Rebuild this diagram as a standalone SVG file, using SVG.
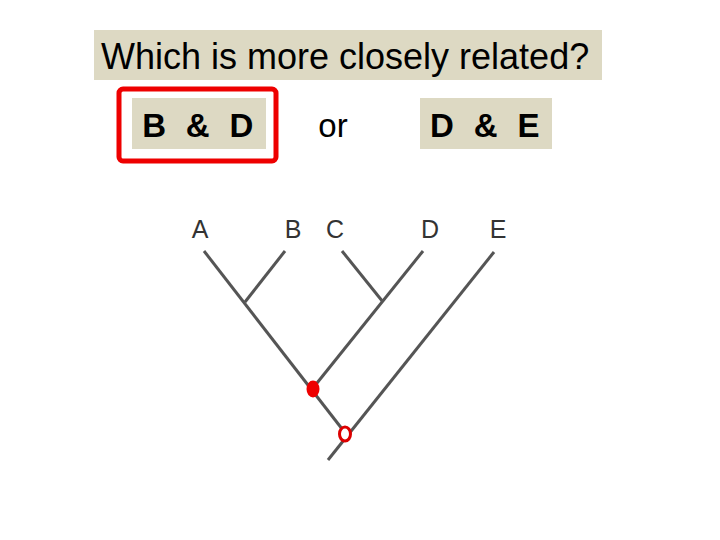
<svg xmlns="http://www.w3.org/2000/svg" width="720" height="540" viewBox="0 0 720 540">
<style>
.box{fill:#ddd9c3}
.lbl{font-family:"Liberation Sans",Arial,sans-serif;font-size:25px;fill:#333}
.br{stroke:#555;stroke-width:3;fill:none;stroke-linecap:butt}
.big{font-family:"Liberation Sans",Arial,sans-serif;fill:#000}
</style>
<rect width="720" height="540" fill="#fff"/>
<g id="title">
<rect class="box" x="94" y="30" width="508" height="50"/>
<text class="big" x="101" y="69" font-size="36">Which is more closely related?</text>
</g>
<g id="optionBD">
<rect class="box" x="132" y="98" width="134" height="51"/>
<text class="big" x="198" y="137" font-size="33" font-weight="bold" text-anchor="middle" letter-spacing="0.5" xml:space="preserve">B  &amp;  D</text>
<rect x="119" y="89" width="157" height="72" rx="4" fill="none" stroke="#e00" stroke-width="5"/>
</g>
<g id="or">
<text class="big" x="333" y="137" font-size="33" text-anchor="middle">or</text>
</g>
<g id="optionDE">
<rect class="box" x="420" y="98" width="132" height="51"/>
<text class="big" x="485" y="137" font-size="33" font-weight="bold" text-anchor="middle" letter-spacing="0.5" xml:space="preserve">D  &amp;  E</text>
</g>
<g id="labels">
<text class="lbl" x="200" y="238" text-anchor="middle">A</text>
<text class="lbl" x="293" y="238" text-anchor="middle">B</text>
<text class="lbl" x="335" y="238" text-anchor="middle">C</text>
<text class="lbl" x="430" y="238" text-anchor="middle">D</text>
<text class="lbl" x="498" y="238" text-anchor="middle">E</text>
</g>
<g id="connectors">
<line class="br" x1="204" y1="251" x2="346" y2="434"/>
<line class="br" x1="285" y1="251" x2="245" y2="302"/>
<line class="br" x1="342" y1="251" x2="383" y2="302"/>
<line class="br" x1="423" y1="251" x2="313" y2="388"/>
<line class="br" x1="494" y1="252" x2="328" y2="460"/>
</g>
<g id="nodes">
<ellipse cx="313" cy="389" rx="6.5" ry="8.5" fill="#e00"/>
<ellipse cx="345" cy="434" rx="5.5" ry="7" fill="#fff" stroke="#d00" stroke-width="3"/>
</g>
</svg>
